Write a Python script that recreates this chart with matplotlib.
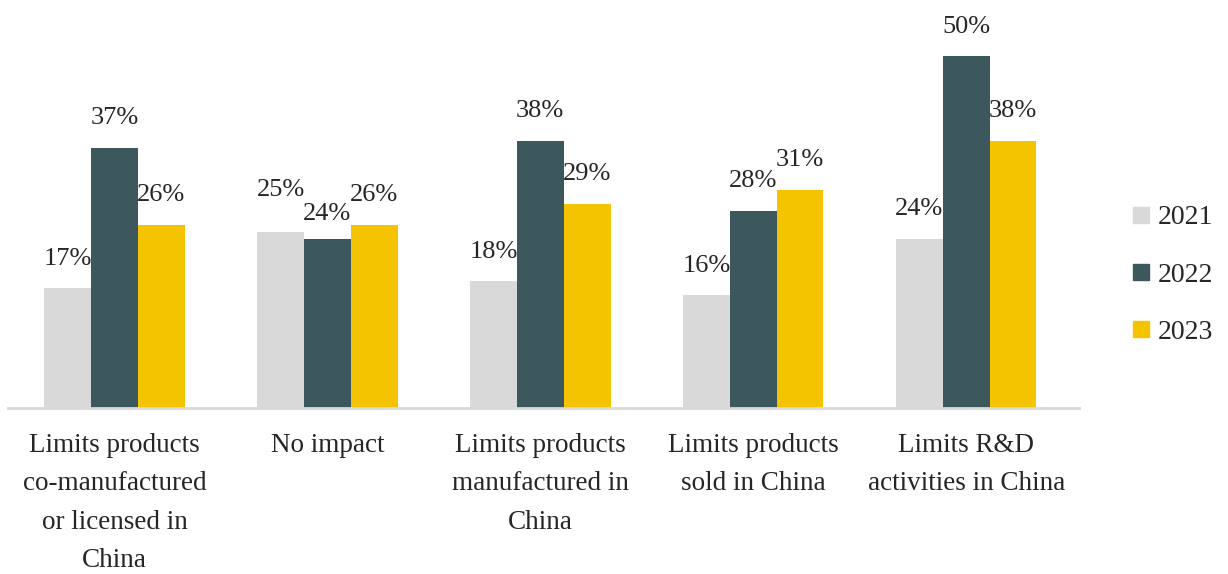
import matplotlib
matplotlib.use("Agg")
import matplotlib.pyplot as plt
import numpy as np
from matplotlib.lines import Line2D

plt.rcParams["font.family"] = ["Liberation Serif", "DejaVu Serif"]

categories = [
    "Limits products\nco-manufactured\nor licensed in\nChina",
    "No impact",
    "Limits products\nmanufactured in\nChina",
    "Limits products\nsold in China",
    "Limits R&D\nactivities in China",
]
years = ["2021", "2022", "2023"]
values_2021 = [17, 25, 18, 16, 24]
values_2022 = [37, 24, 38, 28, 50]
values_2023 = [26, 26, 29, 31, 38]
colors = ["#D9D9D9", "#3C585C", "#F5C400"]

# extra vertical nudge (points) for a few crowded labels: (series, category) -> dy
label_nudge = {(0, 1): 9, (1, 1): -3}

text_color = "#262626"

fig = plt.figure(figsize=(12.28, 5.74), dpi=100)
ax = fig.add_axes([8 / 1228, (574 - 408) / 574, (1079 - 8) / 1228, 408 / 574])

x = np.arange(len(categories))
width = 0.22
series = [values_2021, values_2022, values_2023]
for i, (vals, col, yr) in enumerate(zip(series, colors, years)):
    pos = x + (i - 1) * width
    bars = ax.bar(pos, vals, width=width, color=col, label=yr, zorder=2)
    for j, (b, v) in enumerate(zip(bars, vals)):
        dy = 13.5 + label_nudge.get((i, j), 0)
        ax.annotate(f"{v}%", (b.get_x() + b.get_width() / 2, v),
                    xytext=(0, dy), textcoords="offset points",
                    ha="center", va="bottom", fontsize=19, color=text_color)

ax.set_xlim(-0.5, 4.53)
ax.set_ylim(0, 58)
ax.set_xticks(x)
ax.set_xticklabels(categories, fontsize=19.5, color=text_color, linespacing=1.7)
ax.tick_params(axis="x", length=0, pad=18)
ax.set_yticks([])
for s in ["top", "right", "left"]:
    ax.spines[s].set_visible(False)
ax.spines["bottom"].set_color("#D9D9D9")
ax.spines["bottom"].set_linewidth(2)

handles = [Line2D([0], [0], marker="s", linestyle="none", markersize=12,
                  markerfacecolor=c, markeredgecolor=c) for c in colors]
fig.legend(handles, years, loc="center left", bbox_to_anchor=(1113 / 1228, 1 - 275 / 574),
           frameon=False, fontsize=20, handlelength=1.0, handletextpad=0.1,
           labelspacing=1.15, borderpad=0, labelcolor=text_color)

fig.savefig("out.png", dpi=100)
